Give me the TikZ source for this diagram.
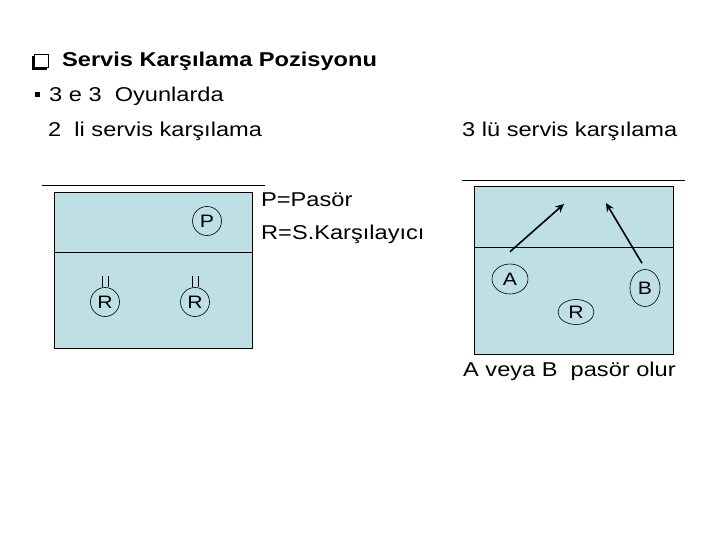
\documentclass[tikz,border=0pt]{standalone}
\usepackage{fontspec}
\setmainfont{Liberation Sans}[FakeStretch=1.18]
\usetikzlibrary{arrows.meta,shapes.geometric}
\definecolor{court}{RGB}{190,223,228}
\tikzset{
  >={Stealth[length=3mm,width=2.8mm]},
  txt/.style={anchor=base west,inner sep=0pt,font=\fontsize{20}{24}\selectfont},
  head/.style={txt,font=\bfseries\fontsize{20}{24}\selectfont},
  field/.style={draw=black,fill=court,line width=0.7pt},
  netline/.style={draw=black,line width=0.7pt},
  player/.style={circle,draw=black,line width=0.6pt,inner sep=0pt,minimum size=#1,
    font=\fontsize{18}{18}\selectfont},
  player/.default=29pt,
  oval/.style={ellipse,draw=black,line width=0.6pt,inner sep=0pt,font=\fontsize{18}{18}\selectfont},
  move/.style={->,line width=1.6pt},
}

\begin{document}
\begin{tikzpicture}[x=1pt,y=-1pt]
  \useasboundingbox (0,0) rectangle (720,540);
  % headings
  \fill (32,56) rectangle (46.5,70);
  \draw[fill=white,line width=1pt] (34.5,54.5) rectangle (48.5,67.5);
  \node[head] (title) at (62,67) {Servis Karşılama Pozisyonu};
  \node[fill=black,minimum size=5pt,inner sep=0pt] (dot) at (37.5,94.5) {};
  \node[txt] (game) at (49,102) {3 e 3\ \ Oyunlarda};
  \node[txt] (two) at (48,137) {2\ \ li\ servis karşılama};
  \node[txt] (three) at (462,137) {3 lü servis karşılama};

  % left court
  \draw[netline] (42,185) -- (265,185);
  \draw[field] (54,192) rectangle (252,348);
  \draw[netline] (54,252) -- (252,252);
  \node[player] (p) at (207,221) {P};
  \foreach \x/\n in {105/r1,195/r2}{
    \node[player] (\n) at (\x,302) {R};
    \draw[netline,line width=0.6pt] ([xshift=-2.8pt]\n.north) -- ++(0,-11)
      ([xshift=2.8pt]\n.north) -- ++(0,-11);
  }
  \node[txt] (legp) at (261,207) {P=Pasör};
  \node[txt] (legr) at (261,240) {R=S.Karşılayıcı};

  % right court
  \draw[netline] (462,180) -- (685,180);
  \draw[field] (474,186) rectangle (673,354);
  \draw[netline] (474,247) -- (673,247);
  \node[oval,minimum width=36pt,minimum height=30pt] (a) at (510,279) {A};
  \node[oval,minimum width=30pt,minimum height=37pt] (b) at (645,288) {B};
  \node[oval,minimum width=36pt,minimum height=25pt] (r) at (576,312) {R};
  \coordinate (ta) at (564,204);
  \coordinate (tb) at (606,203);
  \draw[move] ([yshift=12pt]a.north) -- (ta);
  \draw[move] ([xshift=-3pt,yshift=6pt]b.north) -- (tb);
  \node[txt] (note) at (463,376) {A veya B\ \ pasör olur};
\end{tikzpicture}
\end{document}
